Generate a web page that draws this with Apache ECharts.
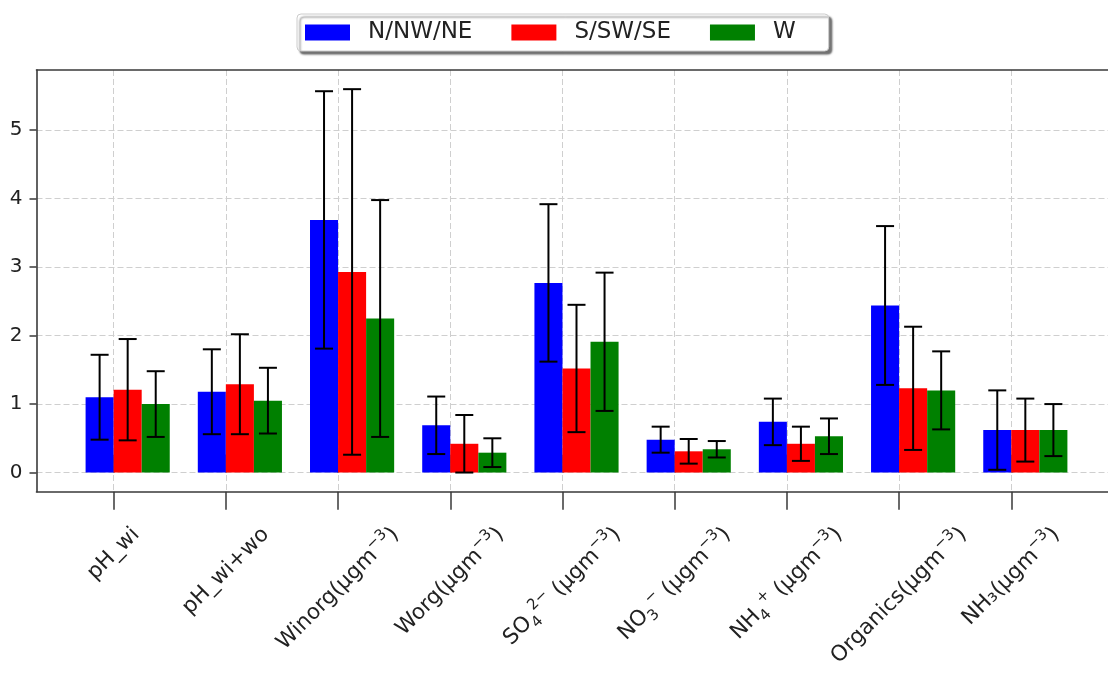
<!DOCTYPE html>
<html>
<head>
<meta charset="utf-8">
<script src="https://cdn.jsdelivr.net/npm/echarts@6/dist/echarts.min.js"></script>
<style>
html,body{margin:0;padding:0;background:#fff;}
#chart{width:1108px;height:675px;}
</style>
</head>
<body>
<div id="chart"></div>
<script>
// ---- data ----
// {sup|..} and {sub|..} mark superscript / subscript parts of the tick labels
const categories = ['pH_wi', 'pH_wi+wo', 'Winorg(μgm{sup|−3})', 'Worg(μgm{sup|−3})',
  'SO{sub|4}{sup|2−} (μgm{sup|−3})', 'NO{sub|3}{sup|−} (μgm{sup|−3})', 'NH{sub|4}{sup|+} (μgm{sup|−3})',
  'Organics(μgm{sup|−3})', 'NH₃(μgm{sup|−3})'];
const seriesNames = ['N/NW/NE', 'S/SW/SE', 'W'];
const meanN = [1.10, 1.18, 3.69, 0.69, 2.77, 0.48, 0.74, 2.44, 0.62];
const sdN   = [0.62, 0.62, 1.88, 0.42, 1.15, 0.19, 0.34, 1.16, 0.58];
const meanS = [1.21, 1.29, 2.93, 0.42, 1.52, 0.31, 0.42, 1.23, 0.62];
const sdS   = [0.74, 0.73, 2.67, 0.42, 0.93, 0.18, 0.25, 0.90, 0.46];
const meanW = [1.00, 1.05, 2.25, 0.29, 1.91, 0.34, 0.53, 1.20, 0.62];
const sdW   = [0.48, 0.48, 1.73, 0.21, 1.01, 0.12, 0.26, 0.57, 0.38];
const yTicks = [0, 1, 2, 3, 4, 5];

// ---- style / layout ----
const COLORS = ['#0000ff', '#ff0000', '#008000'];
const BAR_W = 0.25;
const BAR_LEFT = [-0.25, 0, 0.25];
const XMIN = -0.6875, XMAX = 8.9375;
const YMIN = -0.28, YMAX = 5.88;
const FONT = '"DejaVu Sans", sans-serif';
const AX = '#3a3a3a';
const GRID_LINE = {color: '#cfcfcf', width: 1, type: [6, 3]};
const LABEL_SIZE = 21.5, SCRIPT_SIZE = 15;
const xTicks = categories.map((c, i) => i);

const meas = document.createElement('canvas').getContext('2d');
function richWidth(str) {
  let w = 0;
  const re = /\{(\w+)\|([^}]*)\}|([^{]+)/g;
  let m;
  while ((m = re.exec(str))) {
    if (m[3] !== undefined) {
      meas.font = LABEL_SIZE + 'px "DejaVu Sans"';
      w += meas.measureText(m[3]).width;
    } else {
      meas.font = SCRIPT_SIZE + 'px "DejaVu Sans"';
      w += meas.measureText(m[2]).width;
    }
  }
  return w;
}

function barRenderer(s) {
  return function (params, api) {
    const i = api.value(0), m = api.value(1), sd = api.value(2);
    const left = i + BAR_LEFT[s];
    const p0 = api.coord([left, 0]);
    const p1 = api.coord([left + BAR_W, m]);
    const cx = api.coord([left + BAR_W / 2, 0])[0];
    const yTop = api.coord([left, m + sd])[1];
    const yBot = api.coord([left, m - sd])[1];
    const cap = 9;
    const ls = {stroke: '#000', lineWidth: 2};
    return {
      type: 'group',
      children: [
        {type: 'rect', shape: {x: p0[0], y: p1[1], width: p1[0] - p0[0], height: p0[1] - p1[1]}, style: {fill: COLORS[s]}},
        {type: 'line', z2: 5, shape: {x1: cx, y1: yTop, x2: cx, y2: yBot}, style: ls},
        {type: 'line', z2: 5, shape: {x1: cx - cap, y1: yTop, x2: cx + cap, y2: yTop}, style: ls},
        {type: 'line', z2: 5, shape: {x1: cx - cap, y1: yBot, x2: cx + cap, y2: yBot}, style: ls}
      ]
    };
  };
}

const means = [meanN, meanS, meanW];
const sds = [sdN, sdS, sdW];
const barSeries = seriesNames.map((name, s) => ({
  name: name,
  type: 'custom',
  xAxisIndex: 0, yAxisIndex: 0,
  itemStyle: {color: COLORS[s]},
  renderItem: barRenderer(s),
  encode: {x: 0, y: 1},
  data: means[s].map((v, i) => [i, v, sds[s][i]]),
  clip: false,
  silent: true
}));

const labelSeries = {
  name: 'labels',
  type: 'custom',
  silent: true,
  xAxisIndex: 0, yAxisIndex: 0,
  clip: false,
  data: categories.map((c, i) => [i, YMIN]),
  renderItem: function (params, api) {
    const i = api.value(0);
    const p = api.coord([i, YMIN]);
    const txt = categories[i];
    const L = richWidth(txt);
    return {
      type: 'text',
      x: p[0],
      y: p[1] + 39.5 + 0.354 * L,
      rotation: Math.PI / 4,
      style: {
        text: txt, x: 0, y: 0, align: 'center', verticalAlign: 'middle',
        fill: '#222', fontSize: LABEL_SIZE, fontFamily: FONT, lineHeight: 30,
        rich: {
          sup: {fontSize: SCRIPT_SIZE, fontFamily: FONT, fill: '#222', verticalAlign: 'top', lineHeight: 15},
          sub: {fontSize: SCRIPT_SIZE, fontFamily: FONT, fill: '#222', verticalAlign: 'bottom', lineHeight: 17}
        }
      }
    };
  }
};

const chart = echarts.init(document.getElementById('chart'), null, {renderer: 'canvas'});
chart.setOption({
  animation: false,
  backgroundColor: '#fff',
  textStyle: {fontFamily: FONT},
  legend: {
    data: seriesNames,
    left: 297, top: 14,
    orient: 'horizontal',
    icon: 'rect',
    itemWidth: 45, itemHeight: 16,
    itemGap: 39,
    padding: [7, 33, 7, 8],
    backgroundColor: '#fff',
    borderColor: '#cccccc', borderWidth: 1, borderRadius: 4,
    shadowColor: 'rgba(0,0,0,0.55)', shadowBlur: 2, shadowOffsetX: 3, shadowOffsetY: 3,
    selectedMode: false,
    textStyle: {fontSize: 23, color: '#222', fontFamily: FONT, padding: [0, 0, 0, 13]}
  },
  grid: {left: 36.5, right: -8.5, top: 70, bottom: 183.3, containLabel: false, outerBoundsMode: 'none'},
  xAxis: [
    {
      type: 'value', min: XMIN, max: XMAX, position: 'bottom',
      axisLine: {show: true, onZero: false, lineStyle: {color: AX, width: 1.6}},
      axisTick: {show: true, customValues: xTicks, length: 18, lineStyle: {color: AX, width: 1.5}},
      axisLabel: {show: false},
      splitLine: {show: true, lineStyle: GRID_LINE}
    },
    {
      type: 'value', min: XMIN, max: XMAX, position: 'bottom',
      axisLine: {show: false},
      axisTick: {show: true, inside: true, customValues: xTicks, length: 18, lineStyle: {color: AX, width: 1.5}},
      axisLabel: {show: false},
      splitLine: {show: false}
    },
    {
      type: 'value', min: XMIN, max: XMAX, position: 'top',
      axisLine: {show: true, onZero: false, lineStyle: {color: AX, width: 1.6}},
      axisTick: {show: false}, axisLabel: {show: false}, splitLine: {show: false}
    }
  ],
  yAxis: {
    type: 'value', min: YMIN, max: YMAX,
    axisLine: {show: true, onZero: false, lineStyle: {color: AX, width: 1.6}},
    axisTick: {show: true, customValues: yTicks, length: 7, lineStyle: {color: AX, width: 1.5}},
    axisLabel: {show: true, customValues: yTicks, fontSize: 20, color: '#222', margin: 14, fontFamily: FONT},
    splitLine: {show: true, lineStyle: GRID_LINE}
  },
  series: barSeries.concat([labelSeries])
});
</script>
</body>
</html>
